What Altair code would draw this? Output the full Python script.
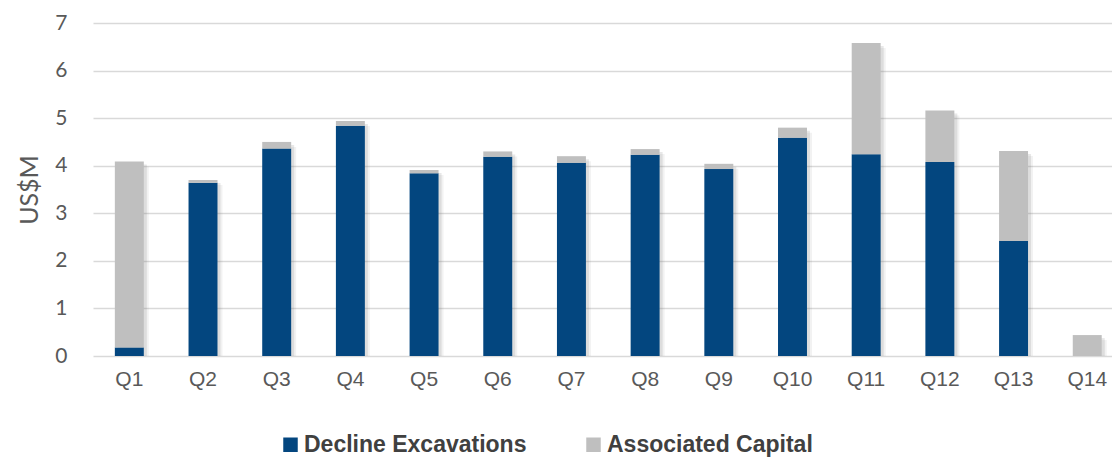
import altair as alt
import pandas as pd

quarters = ["Q1", "Q2", "Q3", "Q4", "Q5", "Q6", "Q7", "Q8", "Q9", "Q10", "Q11", "Q12", "Q13", "Q14"]
decline_excavations = [0.18, 3.64, 4.36, 4.84, 3.84, 4.19, 4.06, 4.23, 3.93, 4.59, 4.24, 4.08, 2.42, 0.0]
associated_capital = [3.91, 0.06, 0.14, 0.10, 0.07, 0.11, 0.14, 0.12, 0.11, 0.21, 2.34, 1.08, 1.89, 0.44]
series_names = ["Decline Excavations", "Associated Capital"]
series_colors = ["#03467F", "#BFBFBF"]

rows = []
for q, d, a in zip(quarters, decline_excavations, associated_capital):
    rows.append({"quarter": q, "series": series_names[0], "value": d, "ord": 0})
    rows.append({"quarter": q, "series": series_names[1], "value": a, "ord": 1})
df = pd.DataFrame(rows)

totals = pd.DataFrame({
    "quarter": quarters,
    "total": [d + a for d, a in zip(decline_excavations, associated_capital)],
})

x_scale = alt.Scale(domain=quarters, paddingInner=0.607, paddingOuter=0.218, align=0.68)
y_scale = alt.Scale(domain=[0, 7], nice=False)

x_axis = alt.Axis(
    title=None, domain=False, ticks=False, labelAngle=0, grid=False,
    labelFont="Liberation Sans", labelFontSize=21, labelColor="#595959", labelPadding=12,
)
y_axis = alt.Axis(
    values=list(range(8)), grid=True, gridColor="#D9D9D9", gridWidth=1.5,
    domain=False, ticks=False,
    labelFont="Lato", labelFontSize=21, labelColor="#595959", labelPadding=26,
    title="US$M", titleFont="Lato", titleFontSize=25, titleFontWeight="normal",
    titleColor="#595959", titlePadding=12,
)

# soft drop shadow behind each stacked column
shadow_far = alt.Chart(totals).mark_bar(
    color="#7F7F7F", opacity=0.10, xOffset=5, yOffset=5, y2Offset=0
).encode(
    x=alt.X("quarter:N", scale=x_scale, axis=x_axis, sort=quarters),
    y=alt.Y("total:Q", scale=y_scale, axis=y_axis),
    y2=alt.datum(0),
)
shadow_near = alt.Chart(totals).mark_bar(
    color="#7F7F7F", opacity=0.18, xOffset=3, yOffset=3, y2Offset=0
).encode(
    x=alt.X("quarter:N", scale=x_scale, axis=x_axis, sort=quarters),
    y=alt.Y("total:Q", scale=y_scale, axis=y_axis),
    y2=alt.datum(0),
)

bars = alt.Chart(df).mark_bar().encode(
    x=alt.X("quarter:N", scale=x_scale, axis=x_axis, sort=quarters),
    y=alt.Y("sum(value):Q", scale=y_scale, axis=y_axis, stack="zero"),
    color=alt.Color(
        "series:N",
        scale=alt.Scale(domain=series_names, range=series_colors),
        legend=alt.Legend(
            title=None, orient="none", direction="horizontal",
            legendX=186, legendY=410,
            symbolType="square", symbolSize=210, symbolStrokeWidth=0,
            labelFont="Liberation Sans", labelFontSize=23, labelFontWeight="bold",
            labelColor="#404040", labelOffset=2, columnPadding=55, labelLimit=0,
        ),
    ),
    order=alt.Order("ord:Q", sort="ascending"),
)

chart = alt.layer(shadow_far, shadow_near, bars).properties(
    width=1019,
    height=333,
    autosize=alt.AutoSizeParams(type="none"),
    padding={"left": 93, "top": 23, "right": 0, "bottom": 101},
    background="white",
).configure_view(stroke=None, strokeWidth=0)

chart.save("out.html", embed_options={"renderer": "svg", "actions": False})
